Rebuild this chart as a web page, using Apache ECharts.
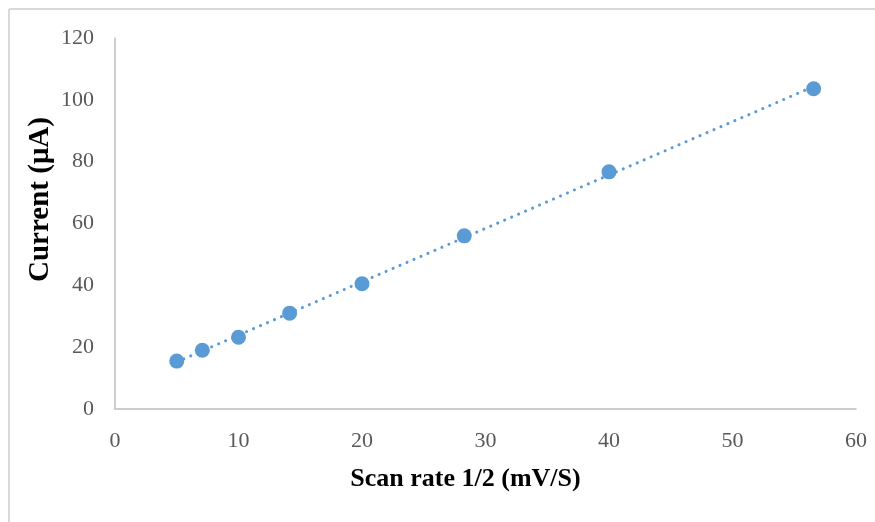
<!DOCTYPE html>
<html>
<head>
  <meta charset="UTF-8">
  <title>scan rate</title>
  <script src="https://cdn.jsdelivr.net/npm/echarts@6/dist/echarts.min.js"></script>
  <style>
    * { padding: 0; margin: 0; }
    #box { width: 875px; height: 522px; }
  </style>
</head>
<body>
  <div id="box"></div>
  <script>
    // square root of scan rate vs peak current
    var scanRate = [5, 7.07, 10, 14.14, 20, 28.28, 40, 56.57]
    var current = [15.5, 19, 23.2, 31, 40.5, 56, 76.7, 103.6]
    var xTicks = [0, 10, 20, 30, 40, 50, 60]
    var yTicks = [0, 20, 40, 60, 80, 100, 120]

    var points = []
    for (let i = 0; i < scanRate.length; i++) {
      points.push([scanRate[i], current[i]])
    }

    // linear trendline (least squares), like the spreadsheet one
    var n = scanRate.length, sx = 0, sy = 0, sxx = 0, sxy = 0
    for (let i = 0; i < n; i++) {
      sx += scanRate[i]; sy += current[i]
      sxx += scanRate[i] * scanRate[i]; sxy += scanRate[i] * current[i]
    }
    var slope = (n * sxy - sx * sy) / (n * sxx - sx * sx)
    var icpt = (sy - slope * sx) / n
    var x0 = scanRate[0], x1 = scanRate[n - 1]
    var trend = [[x0, icpt + slope * x0], [x1, icpt + slope * x1]]

    var blue = '#5b9bd5'
    var serif = '"Liberation Serif", "Times New Roman", serif'
    var chart = echarts.init(document.getElementById('box'))
    chart.setOption({
      animation: false,
      graphic: [
        { type: 'line', shape: { x1: 9, y1: 9, x2: 875, y2: 9 }, style: { stroke: '#d9d9d9', lineWidth: 2 } },
        { type: 'line', shape: { x1: 9, y1: 9, x2: 9, y2: 522 }, style: { stroke: '#d9d9d9', lineWidth: 2 } }
      ],
      grid: { left: 115, top: 38, right: 19, bottom: 113 },
      xAxis: {
        type: 'value',
        min: xTicks[0], max: xTicks[xTicks.length - 1], interval: 10,
        name: 'Scan rate 1/2 (mV/S)',
        nameLocation: 'middle', nameGap: 57,
        nameTextStyle: { fontFamily: serif, fontSize: 26, fontWeight: 'bold', color: '#000', padding: [0, 40, 0, 0] },
        axisLine: { lineStyle: { color: '#bfbfbf', width: 1.5 } },
        axisTick: { show: false },
        splitLine: { show: false },
        axisLabel: { fontFamily: serif, fontSize: 22, color: '#595959', margin: 21 }
      },
      yAxis: {
        type: 'value',
        min: yTicks[0], max: yTicks[yTicks.length - 1], interval: 20,
        name: 'Current (μA)',
        nameLocation: 'middle', nameGap: 60, nameMoveOverlap: false,
        nameTextStyle: { fontFamily: serif, fontSize: 29, fontWeight: 'bold', color: '#000', padding: [0, 0, 0, 48] },
        axisLine: { show: true, lineStyle: { color: '#bfbfbf', width: 1.5 } },
        axisTick: { show: false },
        splitLine: { show: false },
        axisLabel: { fontFamily: serif, fontSize: 22, color: '#595959', margin: 21 }
      },
      series: [{
        type: 'line',
        data: trend,
        symbol: 'none',
        lineStyle: { color: blue, width: 3, type: [0.1, 7.5], cap: 'round' },
        z: 1
      }, {
        type: 'scatter',
        data: points,
        symbolSize: 15,
        itemStyle: { color: blue, opacity: 1 },
        z: 2
      }]
    })
  </script>
</body>
</html>
